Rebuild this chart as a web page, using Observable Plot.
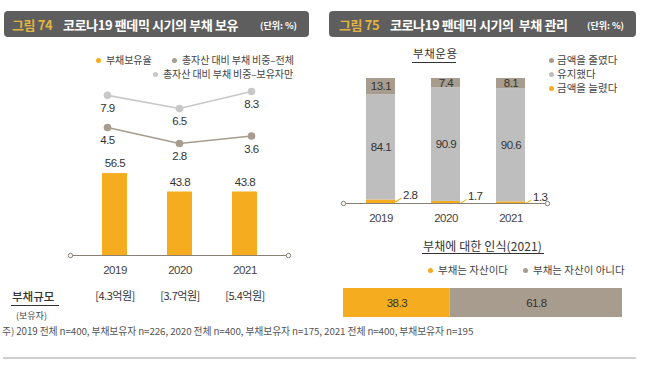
<!DOCTYPE html>
<html><head><meta charset="utf-8">
<script src="https://cdn.jsdelivr.net/npm/d3@7"></script>
<script src="https://cdn.jsdelivr.net/npm/@observablehq/plot@0.6"></script>
<style>
body{margin:0;background:#fff;}
#root{position:relative;width:647px;height:368px;overflow:hidden;font-family:"Noto Sans CJK KR","Noto Sans",sans-serif;color:#3a3a3a;}
.t{position:absolute;white-space:nowrap;line-height:1;transform:translateY(-50%);}
.bar{position:absolute;top:11px;height:26px;background:#5e5e5e;border-radius:4px;}
.dot{display:inline-block;width:5px;height:5px;border-radius:50%;}
.ul{position:absolute;height:0;border-top:1px solid #333;}
.plot{position:absolute;}
.plot text{letter-spacing:-0.5px;}
.plot text.kr{letter-spacing:0;}
</style></head>
<body><div id="root"></div>
<script>
// ---- data ----
const years = ["2019", "2020", "2021"];
const holdRate = [56.5, 43.8, 43.8];              // 부채보유율
const ratioAll = [4.5, 2.8, 3.6];                 // 총자산 대비 부채 비중–전체
const ratioHolders = [7.9, 6.5, 8.3];             // 총자산 대비 부채 비중–보유자만
const debtSize = ["[4.3억원]", "[3.7억원]", "[5.4억원]"];
const mgmtCats = ["금액을 늘렸다", "유지했다", "금액을 줄였다"];
const mgmtIncreased = [2.8, 1.7, 1.3];
const mgmtKept = [84.1, 90.9, 90.6];
const mgmtReduced = [13.1, 7.4, 8.1];
const percCats = ["부채는 자산이다", "부채는 자산이 아니다"];
const percValues = [38.3, 61.8];

const GOLD = "#f5ad1f", BROWN = "#a79c8e", GRAY = "#bebebf", LIGHT = "#c8c8c8", AXIS = "#8a8073";
const NUM = "'Liberation Sans',Arial,sans-serif";
const KR = "'Noto Sans CJK KR','Noto Sans',sans-serif";

const root = document.getElementById("root");
function txt(s, x, cy, style = "") {
  const d = document.createElement("div");
  d.className = "t"; d.style.cssText = `left:${x}px;top:${cy}px;${style}`;
  d.innerHTML = s; root.appendChild(d); return d;
}
function box(cls, style) {
  const d = document.createElement("div"); d.className = cls; d.style.cssText = style; root.appendChild(d); return d;
}
function place(svg, left, top) {
  svg.classList.add("plot"); svg.style.left = left + "px"; svg.style.top = top + "px"; root.appendChild(svg);
}

// ---- title bars ----
box("bar", "left:4px;width:305px;");
box("bar", "left:329px;width:307px;");
const TB = "font-weight:700;font-size:13px;letter-spacing:-0.4px;";
txt("그림 74", 12, 24, TB + "color:#e2b440;");
txt("코로나19 팬데믹 시기의 부채 보유", 63, 24, TB + "color:#fff;");
txt("(단위: %)", 260, 24.5, "font-size:9px;font-weight:700;color:#fff;");
txt("그림 75", 339, 24, TB + "color:#e2b440;");
txt("코로나19 팬데믹 시기의&nbsp; 부채 관리", 390, 24, TB + "color:#fff;");
txt("(단위: %)", 587, 24.5, "font-size:9px;font-weight:700;color:#fff;");

// ---- left legend ----
const LG = "font-size:10px;color:#444;letter-spacing:-0.1px;";
const RG = "font-size:10.5px;color:#444;letter-spacing:0;";
const ldot = (x, cy, c) => box("dot", `position:absolute;left:${x - 2.5}px;top:${cy - 2.5}px;background:${c};`);
ldot(98, 60, GOLD); txt("부채보유율", 106, 60, LG);
ldot(174, 60, BROWN); txt("총자산 대비 부채 비중–전체", 182, 60, LG);
ldot(155, 74, LIGHT); txt("총자산 대비 부채 비중–보유자만", 163, 74, LG);

// ---- right legend ----
ldot(551, 60, BROWN); txt(mgmtCats[2], 557, 60, RG);
ldot(551, 74, GRAY); txt(mgmtCats[1], 557, 74, RG);
ldot(551, 88, GOLD); txt(mgmtCats[0], 557, 88, RG);

txt("부채운용", 413, 54, "font-size:11.5px;color:#333;letter-spacing:0.6px;");
box("ul", "left:412px;width:44px;top:62px;");
txt("부채에 대한 인식(2021)", 423, 246, "font-size:12px;color:#333;letter-spacing:0.1px;");
box("ul", "left:422px;width:122px;top:253px;");
ldot(430, 270, GOLD); txt(percCats[0], 438, 270, RG);
ldot(525, 270, BROWN); txt(percCats[1], 533, 270, RG);

txt("부채규모", 12, 297, "font-size:11.5px;color:#333;font-weight:500;");
box("ul", "left:11px;width:48px;top:305px;");
txt("(보유자)", 16, 315, "font-size:9px;color:#444;");
txt("주) 2019 전체 n=400, 부채보유자 n=226, 2020 전체 n=400, 부채보유자 n=175, 2021 전체 n=400, 부채보유자 n=195", 2, 332, "font-size:9.8px;color:#555;letter-spacing:-0.1px;");
box("", "position:absolute;left:3px;width:633px;top:357px;height:2px;background:#d0d0d0;");

// ---- left chart: bars ----
const barsData = years.map((y, i) => ({year: y, value: holdRate[i], size: debtSize[i]}));
const lineData = [
  ...years.map((y, i) => ({year: y, value: ratioHolders[i], series: "holders"})),
  ...years.map((y, i) => ({year: y, value: ratioAll[i], series: "all"}))
];
const xLeft = {domain: years, paddingInner: 0.62, paddingOuter: 0.468, label: null, tickSize: 0, tickPadding: 10};
const baseStyle = {fontFamily: NUM, fontSize: "11.5px", color: "#444", background: "transparent", overflow: "visible"};

const leftBars = Plot.plot({
  width: 330, height: 320, marginLeft: 70, marginRight: 42, marginTop: 0, marginBottom: 65,
  style: baseStyle,
  x: xLeft,
  y: {domain: [0, 100], range: [255, 110], axis: null},
  marks: [
    Plot.barY(barsData, {x: "year", y: "value", fill: GOLD}),
    Plot.ruleY([0], {stroke: AXIS, strokeWidth: 1.2}),
    Plot.dot([0], {frameAnchor: "bottom-left", r: 2.2, stroke: AXIS, fill: "white", strokeWidth: 1}),
    Plot.dot([0], {frameAnchor: "bottom-right", r: 2.2, stroke: AXIS, fill: "white", strokeWidth: 1}),
    Plot.text(barsData, {x: "year", y: "value", text: d => d.value.toFixed(1), dy: -10, fontSize: 11.5, fill: "#333"}),
    Plot.text(barsData, {x: "year", text: "size", frameAnchor: "bottom", dy: 44, fontFamily: KR, fontSize: 11, fill: "#333", className: "kr"})
  ]
});
place(leftBars, 0, 0);

const leftLines = Plot.plot({
  width: 330, height: 320, marginLeft: 70, marginRight: 42, marginTop: 0, marginBottom: 65,
  style: baseStyle,
  x: {...xLeft, axis: null},
  y: {domain: [0, 10], range: [169.5, 75], axis: null},
  color: {domain: ["holders", "all"], range: [LIGHT, BROWN]},
  marks: [
    Plot.line(lineData, {x: "year", y: "value", z: "series", stroke: "series", strokeWidth: 1.6}),
    Plot.dot(lineData, {x: "year", y: "value", fill: "series", r: 3.8}),
    Plot.text(lineData, {x: "year", y: "value", text: d => d.value.toFixed(1), dy: 13, fontSize: 11.5, fill: "#333"})
  ]
});
place(leftLines, 0, 0);

// ---- right chart: stacked bars ----
const mgmtData = years.flatMap((y, i) => [
  {year: y, cat: mgmtCats[0], value: mgmtIncreased[i]},
  {year: y, cat: mgmtCats[1], value: mgmtKept[i]},
  {year: y, cat: mgmtCats[2], value: mgmtReduced[i]}
]);
const goldData = mgmtData.filter(d => d.cat === mgmtCats[0]);
const slash = {draw(ctx) { ctx.moveTo(-3, 2); ctx.lineTo(3, -2); }};

const rightBars = Plot.plot({
  width: 317, height: 230, marginLeft: 13, marginRight: 100, marginTop: 0, marginBottom: 27,
  style: baseStyle,
  x: {domain: years, paddingInner: 0.559, paddingOuter: 0.331, label: null, tickSize: 0, tickPadding: 10},
  y: {domain: [0, 100], range: [203, 78], axis: null},
  color: {domain: mgmtCats, range: [GOLD, GRAY, BROWN]},
  marks: [
    Plot.barY(mgmtData, {x: "year", y: "value", fill: "cat", order: mgmtCats}),
    Plot.text(mgmtData, Plot.stackY({x: "year", y: "value", z: "cat", order: mgmtCats,
      text: d => d.cat === mgmtCats[0] ? null : d.value.toFixed(1), fontSize: 11.5, fill: "#333"})),
    Plot.dot(goldData, {x: "year", y: "value", symbol: slash, stroke: GOLD, strokeWidth: 1.2, fill: "none", dx: 17.5}),
    Plot.text(goldData, {x: "year", y: "value", text: d => d.value.toFixed(1), dx: 22, dy: -5, textAnchor: "start", fontSize: 11.5, fill: "#333"}),
    Plot.ruleY([0], {stroke: AXIS, strokeWidth: 1.2}),
    Plot.dot([0], {frameAnchor: "bottom-left", r: 2.2, stroke: AXIS, fill: "white", strokeWidth: 1}),
    Plot.dot([0], {frameAnchor: "bottom-right", r: 2.2, stroke: AXIS, fill: "white", strokeWidth: 1})
  ]
});
place(rightBars, 330, 0);

// ---- right bottom: perception bar ----
const percData = percCats.map((c, i) => ({cat: c, value: percValues[i]}));
const percBar = Plot.plot({
  width: 317, height: 45, marginLeft: 13, marginRight: 25, marginTop: 8, marginBottom: 8,
  style: baseStyle,
  x: {domain: [0, d3.sum(percValues)], axis: null},
  color: {domain: percCats, range: [GOLD, BROWN]},
  marks: [
    Plot.barX(percData, {x: "value", fill: "cat"}),
    Plot.text(percData, Plot.stackX({x: "value", text: d => d.value.toFixed(1), fontSize: 11.5, fill: "#333"}))
  ]
});
place(percBar, 330, 280);
</script></body></html>
